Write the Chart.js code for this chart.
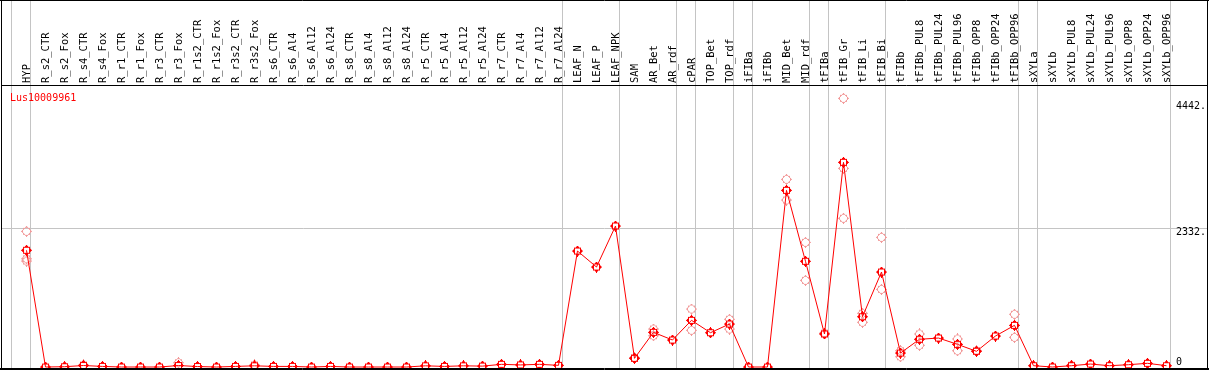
<!DOCTYPE html>
<html>
<head>
<meta charset="utf-8">
<script src="https://cdn.jsdelivr.net/npm/chart.js@4.4.1/dist/chart.umd.min.js"></script>
<style>
html,body{margin:0;padding:0;background:#fff;}
canvas{display:block;}
</style>
</head>
<body>
<canvas id="c" width="1209" height="370"></canvas>
<script>
const categories = ['HYP','R_s2_CTR','R_s2_Fox','R_s4_CTR','R_s4_Fox','R_r1_CTR','R_r1_Fox','R_r3_CTR','R_r3_Fox',
 'R_r1s2_CTR','R_r1s2_Fox','R_r3s2_CTR','R_r3s2_Fox','R_s6_CTR','R_s6_Al4','R_s6_Al12','R_s6_Al24',
 'R_s8_CTR','R_s8_Al4','R_s8_Al12','R_s8_Al24','R_r5_CTR','R_r5_Al4','R_r5_Al12','R_r5_Al24',
 'R_r7_CTR','R_r7_Al4','R_r7_Al12','R_r7_Al24','LEAF_N','LEAF_P','LEAF_NPK','SAM','AR_Bet','AR_rdf',
 'cPAR','TOP_Bet','TOP_rdf','iFIBa','iFIBb','MID_Bet','MID_rdf','tFIBa','tFIB_Gr','tFIB_Li','tFIB_Bi',
 'tFIBb','tFIBb_PUL8','tFIBb_PUL24','tFIBb_PUL96','tFIBb_OPP8','tFIBb_OPP24','tFIBb_OPP96',
 'sXYLa','sXYLb','sXYLb_PUL8','sXYLb_PUL24','sXYLb_PUL96','sXYLb_OPP8','sXYLb_OPP24','sXYLb_OPP96'];

const means = [1962, 0, 5, 25, 10, 0, 0, 0, 25,
 8, 0, 10, 20, 10, 10, 0, 10,
 0, 0, 0, 0, 20, 10, 20, 15,
 45, 35, 45, 28, 1950, 1681, 2370, 146, 583, 454,
 785, 577, 723, 0, 0, 2970, 1777, 555, 3441, 846, 1597,
 235, 466, 487, 381, 264, 521, 701,
 22, 0, 22, 50, 22, 39, 62, 22];

const replicates = [[2281,1820,1782], [], [], [35], [], [], [], [], [72],
 [], [], [], [35], [], [], [], [],
 [], [], [], [], [], [], [], [],
 [], [], [], [], [], [], [], [160], [639,526], [],
 [975,617], [], [802,639], [], [], [3155,2807], [2096,1457], [570], [4517,3340,2500], [903,752], [2180,1306],
 [274,173], [555,365], [], [471,274], [275], [], [886,499],
 [], [], [30], [], [], [], [], []];

const yTickValues = [0, 2332, 4442];
const yTickLabels = ['0', '2332.', '4442.'];
const groupBreaks = [-1, 0, 28, 31, 34, 35, 37, 38, 41, 42, 45, 52, 53, 60];
const geneName = 'Lus10009961';

const meanPoints = means.map((v, i) => ({x: i, y: v}));
const repPoints = [];
replicates.forEach((arr, i) => arr.forEach(v => repPoints.push({x: i, y: v})));

function makeMarker(color, rIn, rOut) {
  const c = document.createElement('canvas');
  c.width = 11; c.height = 11;
  const g = c.getContext('2d');
  g.fillStyle = color;
  for (let i = 0; i < 11; i++) {
    for (let j = 0; j < 11; j++) {
      const d = Math.hypot(i - 5, j - 5);
      if (d >= rIn && d <= rOut) g.fillRect(i, j, 1, 1);
    }
  }
  g.fillRect(5, 0, 1, 1); g.fillRect(5, 10, 1, 1);
  g.fillRect(0, 5, 1, 1); g.fillRect(10, 5, 1, 1);
  return c;
}
const meanMarker = makeMarker('#ff0000', 2.9, 4.3);
const repMarker = makeMarker('#f29a9a', 3.4, 4.3);

function noPad(s) { s.paddingLeft = 0; s.paddingRight = 0; s.paddingTop = 0; s.paddingBottom = 0; }

const frame = {
  id: 'frame',
  beforeDraw(chart) {
    const ctx = chart.ctx, xs = chart.scales.x, ys = chart.scales.y;
    ctx.save();
    ctx.fillStyle = '#fff';
    ctx.fillRect(0, 0, chart.width, chart.height);
    ctx.strokeStyle = '#c4c4c4';
    ctx.lineWidth = 1;
    groupBreaks.forEach(b => {
      const px = Math.floor(xs.getPixelForValue(b + 0.2)) + 0.5;
      ctx.beginPath(); ctx.moveTo(px, 0); ctx.lineTo(px, chart.chartArea.bottom); ctx.stroke();
    });
    ctx.restore();
    const items = ys.getLabelItems();
    items.forEach(it => {
      if (it._shifted) return;
      it._shifted = true;
      it.options.textAlign = 'left';
      it.options.translation[0] = chart.chartArea.right - 31;
      it.options.translation[1] += (it.label === '0') ? -5 : 4;
    });
  },
  afterDraw(chart) {
    const ctx = chart.ctx;
    ctx.save();
    ctx.strokeStyle = '#000';
    ctx.lineWidth = 1;
    ctx.beginPath();
    ctx.moveTo(1.5, 0); ctx.lineTo(1.5, 370);
    ctx.moveTo(0, 0.5); ctx.lineTo(1209, 0.5);
    ctx.moveTo(1207.5, 0); ctx.lineTo(1207.5, 370);
    ctx.moveTo(0, 368.5); ctx.lineTo(1209, 368.5);
    ctx.moveTo(0, 369.5); ctx.lineTo(1209, 369.5);
    ctx.stroke();
    ctx.fillStyle = '#ff0000';
    ctx.font = '10px "DejaVu Sans Mono"';
    ctx.textBaseline = 'middle';
    ctx.textAlign = 'left';
    ctx.fillText(geneName, 10, 98);
    ctx.restore();
  }
};

new Chart(document.getElementById('c'), {
  type: 'line',
  data: {
    datasets: [
      {
        label: 'mean', data: meanPoints, order: 0,
        borderColor: '#ff0000', borderWidth: 1, tension: 0,
        pointStyle: meanMarker, pointRadius: 5, pointHoverRadius: 5, clip: false
      },
      {
        label: 'replicates', data: repPoints, order: 1, showLine: false,
        pointStyle: repMarker, pointRadius: 5, clip: false
      }
    ]
  },
  options: {
    responsive: false,
    animation: false,
    devicePixelRatio: 1,
    layout: {autoPadding: false, padding: {left: 2, right: 2, top: 0, bottom: 1.5}},
    plugins: {legend: {display: false}, tooltip: {enabled: false}},
    events: [],
    scales: {
      x: {
        type: 'linear', position: 'top',
        min: -1.2895, max: 62.132,
        afterBuildTicks(s) { s.ticks = categories.map((c, i) => ({value: i})); },
        afterFit(s) { s.height = 85; noPad(s); },
        grid: {display: false, drawTicks: false},
        border: {display: true, color: '#000', width: 1},
        ticks: {
          autoSkip: false, minRotation: 90, maxRotation: 90, padding: 2, labelOffset: 13,
          color: '#000', font: {family: 'DejaVu Sans Mono', size: 10.5},
          callback: (v) => categories[v]
        }
      },
      y: {
        type: 'linear', position: 'right',
        min: -25, max: 4741,
        afterBuildTicks(s) { s.ticks = yTickValues.map(v => ({value: v})); },
        afterFit(s) { s.width = 0; noPad(s); },
        grid: {
          drawTicks: false,
          color: (c) => (c.tick && c.tick.value === 2332) ? '#c4c4c4' : 'rgba(0,0,0,0)'
        },
        border: {display: false},
        ticks: {
          mirror: true, padding: 2, color: '#000',
          font: {family: 'DejaVu Sans Mono', size: 10},
          callback: (v) => yTickLabels[yTickValues.indexOf(v)]
        }
      }
    }
  },
  plugins: [frame]
});
</script>
</body>
</html>
